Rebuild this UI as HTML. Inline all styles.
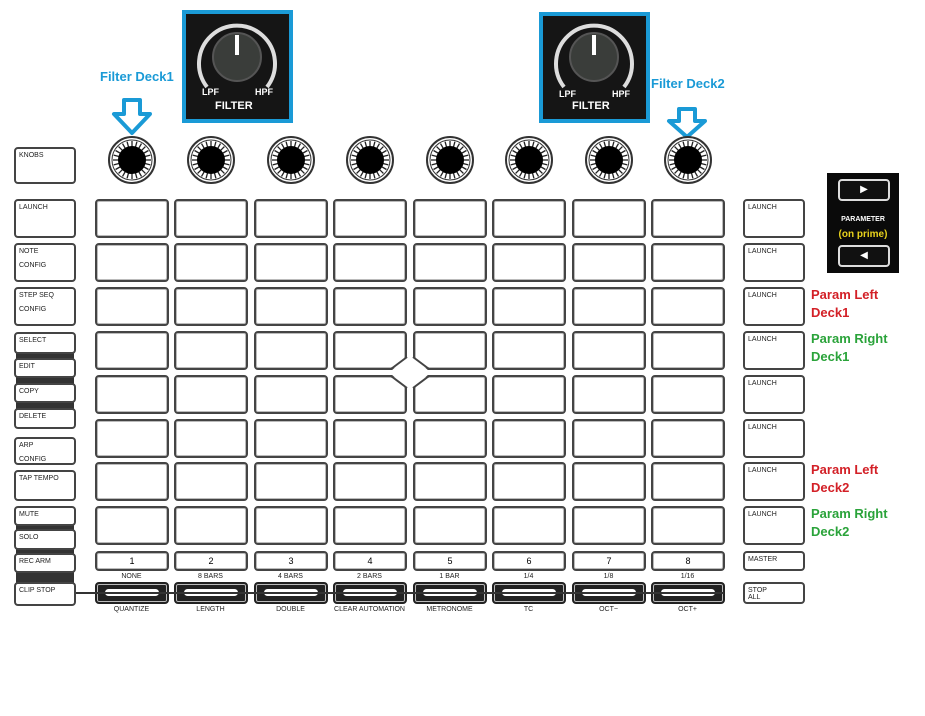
<!DOCTYPE html>
<html><head><meta charset="utf-8"><style>
body{margin:0;width:925px;height:716px;background:#fff;position:relative;overflow:hidden;font-family:"Liberation Sans",sans-serif}
.a{position:absolute;box-sizing:border-box}
.pad{border:2px solid #444;border-radius:4px;box-shadow:inset 0 0 0 1px #bbb}
.btn{border:2px solid #444;border-radius:4px;font-size:7px;color:#222;padding:3px 0 0 3px;line-height:1;background:#fff}
.dk{background:#333}
.lbl{font-size:7px;color:#222;text-align:center;width:79px}
.bl{color:#1a9ad6;font-weight:bold;font-size:13px}
.red{color:#d32027;font-weight:bold;font-size:13px;line-height:18px}
.grn{color:#2aa33a;font-weight:bold;font-size:13px;line-height:18px}
</style></head><body>
<div id="c"></div>
<div class="a" style="left:182px;top:10px;width:111px;height:113px;border:4px solid #1a9ad6;background:#151515"></div>
<div class="a" style="left:539px;top:12px;width:111px;height:111px;border:4px solid #1a9ad6;background:#151515"></div>
<svg id="sv" class="a" style="left:0;top:0" width="925" height="716">
 <g transform="translate(237,57)">
  <path d="M-30 30 A38 38 0 1 1 30 30" fill="none" stroke="#ddd" stroke-width="4"/>
  <circle r="24" fill="#3a3d3a" stroke="#555" stroke-width="2"/>
  <rect x="-2" y="-22" width="4" height="20" fill="#fff"/>
  <text x="-35" y="38" fill="#fff" font-size="9" font-weight="bold" font-family="Liberation Sans">LPF</text>
  <text x="18" y="38" fill="#fff" font-size="9" font-weight="bold" font-family="Liberation Sans">HPF</text>
  <text x="-22" y="52" fill="#fff" font-size="11" font-weight="bold" font-family="Liberation Sans">FILTER</text>
 </g>
 <g transform="translate(594,57)">
  <path d="M-30 30 A38 38 0 1 1 30 30" fill="none" stroke="#ddd" stroke-width="4"/>
  <circle r="24" fill="#3a3d3a" stroke="#555" stroke-width="2"/>
  <rect x="-2" y="-22" width="4" height="20" fill="#fff"/>
  <text x="-35" y="40" fill="#fff" font-size="9" font-weight="bold" font-family="Liberation Sans">LPF</text>
  <text x="18" y="40" fill="#fff" font-size="9" font-weight="bold" font-family="Liberation Sans">HPF</text>
  <text x="-22" y="52" fill="#fff" font-size="11" font-weight="bold" font-family="Liberation Sans">FILTER</text>
 </g>
 <path d="M124 100 h16 v14 h10 l-18 19 l-18 -19 h10 z" fill="none" stroke="#1a9ad6" stroke-width="4" stroke-linejoin="round"/>
 <path d="M679 109 h16 v12 h10 l-18 16 l-18 -16 h10 z" fill="none" stroke="#1a9ad6" stroke-width="4" stroke-linejoin="round"/>
 <line x1="76" y1="593" x2="724" y2="593" stroke="#333" stroke-width="2"/>
 <polygon points="391,371 407,357 413,357 429,371 429,374 413,388 407,388 391,374" fill="#fff"/>
 <g stroke="#444" stroke-width="2" fill="none">
  <line x1="391" y1="369" x2="407" y2="357"/>
  <line x1="413" y1="357" x2="429" y2="369"/>
  <line x1="391" y1="376" x2="407" y2="388"/>
  <line x1="413" y1="388" x2="429" y2="376"/>
 </g>
</svg>
<div class="a bl" style="left:100px;top:69px">Filter Deck1</div>
<div class="a bl" style="left:651px;top:76px">Filter Deck2</div>
<div class="a" style="left:827px;top:173px;width:72px;height:100px;background:#0a0a0a"></div>
<div class="a" style="left:838px;top:179px;width:52px;height:22px;border:2px solid #ddd;border-radius:4px;background:#111;color:#fff;font-size:10px;text-align:center;line-height:18px">▶</div>
<div class="a" style="left:827px;top:216px;width:72px;text-align:center;color:#fff;font-size:7px;font-weight:bold">PARAMETER</div>
<div class="a" style="left:827px;top:229px;width:72px;text-align:center;color:#e8d21c;font-size:10px;font-weight:bold">(on prime)</div>
<div class="a" style="left:838px;top:245px;width:52px;height:22px;border:2px solid #ddd;border-radius:4px;background:#111;color:#fff;font-size:10px;text-align:center;line-height:18px">◀</div>
<div class="a red" style="left:811px;top:286px">Param Left<br>Deck1</div>
<div class="a grn" style="left:811px;top:330px">Param Right<br>Deck1</div>
<div class="a red" style="left:811px;top:461px">Param Left<br>Deck2</div>
<div class="a grn" style="left:811px;top:505px">Param Right<br>Deck2</div>
<script>
var c=document.getElementById('c'),h='';
var X=[95,174,254,333,413,492,572,651],Y=[199,243,287,331,375,419,462,506];
function d(cls,l,t,w,hh,txt,st){h+='<div class="a '+cls+'" style="left:'+l+'px;top:'+t+'px;width:'+w+'px;height:'+hh+'px;'+(st||'')+'">'+(txt||'')+'</div>';}
var sv='';
for(var i=0;i<8;i++){
 var cx=X[i]+37,cy=160;
 sv+='<circle cx="'+cx+'" cy="'+cy+'" r="23" fill="#fff" stroke="#333" stroke-width="2"/>';
 sv+='<circle cx="'+cx+'" cy="'+cy+'" r="20" fill="none" stroke="#333" stroke-width="1"/>';
 for(var k=0;k<24;k++){var an=k*Math.PI/12;sv+='<line x1="'+(cx+13*Math.cos(an))+'" y1="'+(cy+13*Math.sin(an))+'" x2="'+(cx+19*Math.cos(an))+'" y2="'+(cy+19*Math.sin(an))+'" stroke="#222" stroke-width="1.3"/>';}
 sv+='<circle cx="'+cx+'" cy="'+cy+'" r="14" fill="#000"/>';
 for(var j=0;j<8;j++)d('pad',X[i],Y[j],74,39);
 d('pad',X[i],551,74,20,(i+1),'font-size:9px;text-align:center;line-height:16px');
 d('pad',X[i],582,74,22,'','background:#222;border-color:#222');
 d('',X[i]+10,589,54,7,'','background:#fff;border-radius:4px');
}
document.getElementById('sv').insertAdjacentHTML('beforeend',sv);
var tl=['NONE','8 BARS','4 BARS','2 BARS','1 BAR','1/4','1/8','1/16'],bl=['QUANTIZE','LENGTH','DOUBLE','CLEAR AUTOMATION','METRONOME','TC','OCT−','OCT+'];
for(var i=0;i<8;i++){d('lbl',X[i]-3,573,79,9,tl[i]);d('lbl',X[i]-3,606,79,9,bl[i]);}
for(var j=0;j<8;j++)d('btn',743,Y[j],62,39,'LAUNCH');
d('btn',743,551,62,20,'MASTER');d('btn',743,582,62,22,'STOP<br>ALL');
var L=[['KNOBS',147,37],['LAUNCH',199,39],['NOTE<br><br>CONFIG',243,39],['STEP SEQ<br><br>CONFIG',287,39],['SELECT',332,22],['EDIT',358,20],['COPY',383,20],['DELETE',408,21],['ARP<br><br>CONFIG',437,28],['TAP TEMPO',470,31],['MUTE',506,20],['SOLO',529,21],['REC ARM',553,20],['CLIP STOP',582,24]];
d('dk',16,352,58,8);d('dk',16,377,58,8);d('dk',16,402,58,8);d('dk',16,524,58,8);d('dk',16,548,58,8);d('dk',16,572,58,12);
L.forEach(function(b){d('btn',14,b[1],62,b[2],b[0]);});
c.innerHTML=h;
</script>
</body></html>
